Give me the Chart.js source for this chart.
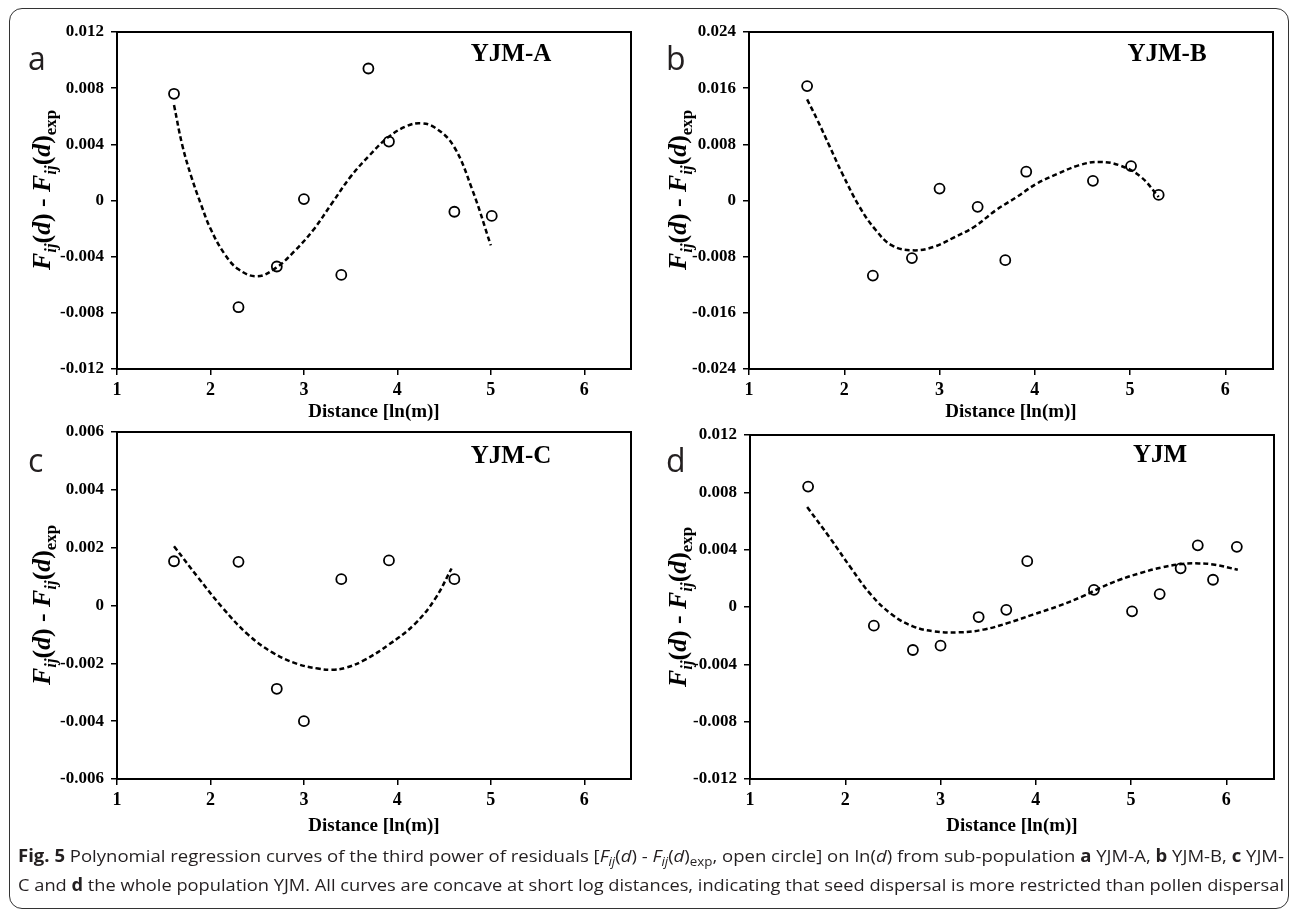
<!DOCTYPE html>
<html>
<head>
<meta charset="utf-8">
<script src="https://cdn.jsdelivr.net/npm/chart.js@4.4.1/dist/chart.umd.min.js"></script>
<style>
    body { margin: 0; background: #fff; width: 1292px; height: 911px; position: relative; overflow: hidden; font-family: 'Open Sans', sans-serif; }
    #frame { position: absolute; left: 9px; top: 8px; width: 1280px; height: 901px; border: 1.5px solid #333; border-radius: 13px; box-sizing: border-box; }
    canvas { position: absolute; }
    .cap { position: absolute; left: 18px; white-space: nowrap; font-size: 17px; line-height: 20px; color: #231f20; transform-origin: 0 50%; }
    .cap sub { font-size: 0.72em; line-height: 0; vertical-align: -0.3em; }
</style>
</head>
<body>
<div id="frame"></div>
<canvas id="chartA" width="646" height="430" style="left:0;top:0"></canvas>
<canvas id="chartB" width="646" height="430" style="left:646px;top:0"></canvas>
<canvas id="chartC" width="646" height="440" style="left:0;top:410px"></canvas>
<canvas id="chartD" width="646" height="440" style="left:646px;top:410px"></canvas>
<div class="cap" id="cap1" style="top:846px"><b>Fig. 5</b> Polynomial regression curves of the third power of residuals [<i>F</i><sub><i>ij</i></sub>(<i>d</i>) - <i>F</i><sub><i>ij</i></sub>(<i>d</i>)<sub>exp</sub>, open circle] on ln(<i>d</i>) from sub-population <b>a</b> YJM-A, <b>b</b> YJM-B, <b>c</b> YJM-</div>
<div class="cap" id="cap2" style="top:875px">C and <b>d</b> the whole population YJM. All curves are concave at short log distances, indicating that seed dispersal is more restricted than pollen dispersal</div>
<script>
// observed residuals (open circles), x = ln(distance)
const distA = [1.61, 2.30, 2.71, 3.00, 3.40, 3.69, 3.91, 4.61, 5.01];
const resA = [0.0076, -0.0076, -0.0047, 0.0001, -0.0053, 0.0094, 0.0042, -0.0008, -0.0011];

const distB = [1.61, 2.30, 2.71, 3.00, 3.40, 3.69, 3.91, 4.61, 5.01, 5.30];
const resB = [0.0163, -0.0107, -0.0082, 0.0017, -0.0009, -0.0085, 0.0041, 0.0028, 0.0049, 0.0008];

const distC = [1.61, 2.30, 2.71, 3.00, 3.40, 3.91, 4.61];
const resC = [0.00153, 0.00151, -0.00288, -0.0040, 0.00091, 0.00156, 0.00091];

const distD = [1.61, 2.30, 2.71, 3.00, 3.40, 3.69, 3.91, 4.61, 5.01, 5.30, 5.52, 5.70, 5.86, 6.11];
const resD = [0.0084, -0.0013, -0.0030, -0.0027, -0.0007, -0.0002, 0.0032, 0.0012, -0.0003, 0.0009, 0.0027, 0.0043, 0.0019, 0.0042];

// dashed regression curves
const fitAX = [1.61, 1.70, 1.80, 1.90, 2.00, 2.15, 2.30, 2.50, 2.70, 2.90, 3.10, 3.30, 3.50, 3.70, 3.90, 4.10, 4.25, 4.40, 4.60, 4.80, 5.00];
const fitAY = [0.0068, 0.0039, 0.0016, -0.0003, -0.0020, -0.0038, -0.0049, -0.0054, -0.0048, -0.0036, -0.0021, -0.0002, 0.0017, 0.0032, 0.0045, 0.0053, 0.0055, 0.0052, 0.0039, 0.0008, -0.0032];

const fitBX = [1.61, 1.72, 1.85, 1.98, 2.16, 2.33, 2.50, 2.72, 2.94, 3.16, 3.37, 3.59, 3.81, 4.02, 4.24, 4.46, 4.67, 4.89, 5.11, 5.30];
const fitBY = [0.0144, 0.0114, 0.0076, 0.0038, -0.0009, -0.0042, -0.0064, -0.0071, -0.0066, -0.0052, -0.0037, -0.0014, 0.0005, 0.0024, 0.0038, 0.0050, 0.0055, 0.0050, 0.0034, 0.0005];

const fitCX = [1.61, 1.87, 2.13, 2.40, 2.67, 2.93, 3.15, 3.30, 3.45, 3.64, 3.91, 4.18, 4.40, 4.58];
const fitCY = [0.00205, 0.00096, -0.00008, -0.00100, -0.00164, -0.00202, -0.00218, -0.00222, -0.00215, -0.00190, -0.00135, -0.00066, 0.00021, 0.00128];

const fitDX = [1.60, 1.84, 2.06, 2.27, 2.49, 2.71, 2.93, 3.19, 3.45, 3.71, 3.97, 4.23, 4.49, 4.67, 4.88, 5.10, 5.32, 5.53, 5.71, 5.88, 6.12];
const fitDY = [0.00697, 0.00481, 0.00272, 0.00086, -0.00053, -0.00135, -0.00170, -0.00177, -0.00158, -0.00111, -0.00053, 0.00005, 0.00074, 0.00132, 0.00190, 0.00237, 0.00276, 0.00300, 0.00304, 0.00295, 0.00260];

const xTicks = [1, 2, 3, 4, 5, 6];
const SERIF = "'Liberation Serif', 'Times New Roman', serif";

function pts(xs, ys) {
    return xs.map((x, i) => ({ x: x, y: ys[i] }));
}

// y axis title with subscripts, drawn rotated
function drawYTitle(ctx, cx, cy, len) {
    const big = 26, small = 17;
    const parts = [
        ['F', 'italic bold', big, 0], ['ij', 'italic bold', small, 6], ['(', 'bold', big, 0], ['d', 'italic bold', big, 0], [')', 'bold', big, 0],
        [' - ', 'bold', big, 0],
        ['F', 'italic bold', big, 0], ['ij', 'italic bold', small, 6], ['(', 'bold', big, 0], ['d', 'italic bold', big, 0], [')', 'bold', big, 0],
        ['exp', 'bold', small, 6]
    ];
    let total = 0;
    parts.forEach(p => { ctx.font = p[1] + ' ' + p[2] + 'px ' + SERIF; p.push(ctx.measureText(p[0]).width); total += p[4]; });
    ctx.save();
    ctx.translate(cx, cy);
    ctx.rotate(-Math.PI / 2);
    ctx.scale(len / total, 1);
    ctx.fillStyle = '#000';
    ctx.textBaseline = 'alphabetic';
    let x = -total / 2;
    parts.forEach(p => {
        ctx.font = p[1] + ' ' + p[2] + 'px ' + SERIF;
        ctx.fillText(p[0], x, 8 + p[3]);
        x += p[4];
    });
    ctx.restore();
}

const decor = {
    id: 'decor',
    afterDraw(chart, args, o) {
        const ctx = chart.ctx, a = chart.chartArea;
        ctx.save();
        ctx.strokeStyle = '#000';
        ctx.lineWidth = 2;
        ctx.strokeRect(a.left, a.top, a.right - a.left, a.bottom - a.top);
        ctx.fillStyle = '#231f20';
        ctx.font = "32px 'Open Sans'";
        ctx.textBaseline = 'alphabetic';
        ctx.textAlign = 'left';
        ctx.fillText(o.letter, o.lx, o.ly);
        ctx.fillStyle = '#000';
        ctx.font = 'bold 25px ' + SERIF;
        ctx.textAlign = 'center';
        ctx.textBaseline = 'middle';
        ctx.fillText(o.title, o.tx, o.ty);
        ctx.restore();
        drawYTitle(ctx, o.yx, o.yy, 160);
    }
};

function makePanel(id, p) {
    const ctx = document.getElementById(id).getContext('2d');
    return new Chart(ctx, {
        type: 'scatter',
        data: {
            datasets: [{
                data: pts(p.dist, p.res),
                pointStyle: 'circle',
                pointRadius: 5,
                pointHoverRadius: 5,
                borderColor: '#000',
                backgroundColor: 'rgba(0,0,0,0)',
                borderWidth: 1.8
            }, {
                type: 'line',
                data: pts(p.fitX, p.fitY),
                borderColor: '#000',
                borderWidth: 2.5,
                borderDash: [5, 3],
                pointRadius: 0,
                fill: false,
                tension: 0.4
            }]
        },
        options: {
            responsive: false,
            animation: false,
            events: [],
            layout: { padding: { left: 0, top: p.top, right: p.right, bottom: 0 } },
            plugins: { legend: { display: false }, tooltip: { enabled: false }, decor: p.decor },
            scales: {
                x: {
                    type: 'linear', min: 1, max: 6.5,
                    afterBuildTicks: s => { s.ticks = xTicks.map(v => ({ value: v })); },
                    afterFit: s => { s.height = p.xh; },
                    ticks: { color: '#000', font: { family: SERIF, weight: 'bold', size: 18 }, padding: 5, maxRotation: 0 },
                    grid: { drawOnChartArea: false, drawTicks: true, tickLength: 6, color: '#000', lineWidth: 1.5 },
                    border: { color: '#000', width: 2 },
                    title: { display: true, text: 'Distance [ln(m)]', color: '#000', font: { family: SERIF, weight: 'bold', size: 19 }, padding: { top: 0, bottom: p.tpad } }
                },
                y: {
                    min: -p.ymax, max: p.ymax,
                    afterFit: s => { s.width = p.yw; },
                    ticks: {
                        stepSize: p.ystep,
                        color: '#000', font: { family: SERIF, weight: 'bold', size: 17 }, padding: 7,
                        callback: v => Math.abs(v) < 1e-9 ? '0' : v.toFixed(3)
                    },
                    grid: { drawOnChartArea: false, drawTicks: true, tickLength: 6, color: '#000', lineWidth: 1.5 },
                    border: { color: '#000', width: 2 }
                }
            }
        },
        plugins: [decor]
    });
}

// Panel a: YJM-A
makePanel('chartA', {
    dist: distA, res: resA, fitX: fitAX, fitY: fitAY,
    ymax: 0.012, ystep: 0.004, top: 32, right: 15, yw: 117, xh: 61, tpad: 6.6,
    decor: { letter: 'a', lx: 28, ly: 70, title: 'YJM-A', tx: 511, ty: 55, yx: 42, yy: 190 }
});

// Panel b: YJM-B
makePanel('chartB', {
    dist: distB, res: resB, fitX: fitBX, fitY: fitBY,
    ymax: 0.024, ystep: 0.008, top: 32, right: 19, yw: 103, xh: 61, tpad: 6.6,
    decor: { letter: 'b', lx: 20, ly: 70, title: 'YJM-B', tx: 521, ty: 55, yx: 32, yy: 190 }
});

// Panel c: YJM-C
makePanel('chartC', {
    dist: distC, res: resC, fitX: fitCX, fitY: fitCY,
    ymax: 0.006, ystep: 0.002, top: 22, right: 15, yw: 117, xh: 71, tpad: 12.6,
    decor: { letter: 'c', lx: 28, ly: 62, title: 'YJM-C', tx: 511, ty: 47, yx: 42, yy: 195 }
});

// Panel d: whole population YJM
makePanel('chartD', {
    dist: distD, res: resD, fitX: fitDX, fitY: fitDY,
    ymax: 0.012, ystep: 0.004, top: 25, right: 18, yw: 104, xh: 71, tpad: 12.6,
    decor: { letter: 'd', lx: 20, ly: 62, title: 'YJM', tx: 514, ty: 46, yx: 32, yy: 197 }
});

// stretch caption lines to the figure width
['cap1', 'cap2'].forEach(id => {
    const el = document.getElementById(id);
    const w = el.getBoundingClientRect().width;
    el.style.transform = 'scaleX(' + (1266 / w) + ')';
});
</script>
</body>
</html>
